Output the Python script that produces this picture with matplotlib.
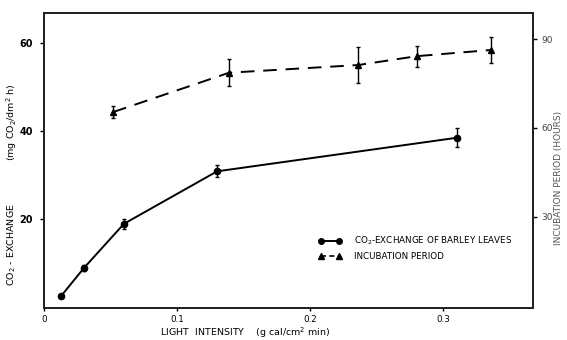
import matplotlib
matplotlib.use("Agg")
import matplotlib.pyplot as plt
from matplotlib.lines import Line2D

# --- data ---
light = [0.013, 0.030, 0.060, 0.130, 0.310]
co2 = [2.7, 9.0, 19.0, 30.9, 38.5]
co2_err = [0.0, 0.7, 1.2, 1.4, 2.1]

light_inc = [0.052, 0.139, 0.236, 0.280, 0.336]
incubation = [65.4, 78.7, 81.3, 84.3, 86.4]
inc_err = [2.0, 4.5, 6.2, 3.5, 4.5]

xticks = [0, 0.1, 0.2, 0.3]
xticklabels = ["0", "0.1", "0.2", "0.3"]
yticks_left = [20, 40, 60]
yticks_right = [30, 60, 90]

plt.rcParams['font.family'] = ['DejaVu Sans']

fig = plt.figure(figsize=(5.67, 3.40), dpi=100)
ax = fig.add_axes([44/567, 1-307.7/340, (532.7-44)/567, (307.7-13.3)/340])
ax2 = ax.twinx()

ax.errorbar(light, co2, yerr=co2_err, color='black', lw=1.4, marker='o',
            ms=4.5, capsize=1.5, elinewidth=1.0, capthick=1.0)
ax2.errorbar(light_inc, incubation, yerr=inc_err, color='black', lw=1.4,
             marker='^', ms=4.5, capsize=1.5, elinewidth=1.0, capthick=1.0,
             linestyle=(0, (7, 4.5)))

ax.set_xlim(0, 0.367)
ax.set_ylim(0, 66.7)
ax2.set_ylim(-0.8, 98.8)

ax.set_xticks(xticks)
ax.set_xticklabels(xticklabels, fontsize=6.3)
ax.set_yticks(yticks_left)
ax.set_yticklabels([str(v) for v in yticks_left], fontsize=7, fontweight='bold')
ax2.set_yticks(yticks_right)
ax2.set_yticklabels([str(v) for v in yticks_right], fontsize=6.5, color='#444444')

ax.tick_params(axis='x', direction='out', length=2.5, width=1, pad=2.5)
ax.tick_params(axis='y', direction='out', length=3, width=1, pad=5)
ax2.tick_params(axis='y', direction='out', length=3, width=1, pad=3)

for a in (ax, ax2):
    for s in a.spines.values():
        s.set_linewidth(1.4)
        s.set_color('#222222')

fig.text(245/567, 1-333/340, "LIGHT  INTENSITY    (g cal/cm$^2$ min)",
         ha='center', va='center', fontsize=6.8)
fig.text(12/567, 1-245/340, "CO$_2$ - EXCHANGE", rotation=90,
         ha='center', va='center', fontsize=6.8)
fig.text(12/567, 1-122/340, "(mg CO$_2$/dm$^2$ h)", rotation=90,
         ha='center', va='center', fontsize=6.8)
fig.text(558/567, 1-178/340, "INCUBATION PERIOD (HOURS)", rotation=90,
         ha='center', va='center', fontsize=6.5, color='#555555')

handles = [
    Line2D([], [], color='black', lw=1.4, marker='o', ms=4),
    Line2D([], [], color='black', lw=1.2, marker='^', ms=4, linestyle=(0, (3, 2))),
]
labels = ["CO$_2$-EXCHANGE OF BARLEY LEAVES", "INCUBATION PERIOD"]
ax2.legend(handles, labels, loc='upper left', bbox_to_anchor=(0.562, 0.248),
           frameon=False, fontsize=6.3, numpoints=2, handlelength=2.6,
           handletextpad=1.4, borderpad=0, borderaxespad=0, labelspacing=0.55)

fig.savefig("out.png", dpi=100)
